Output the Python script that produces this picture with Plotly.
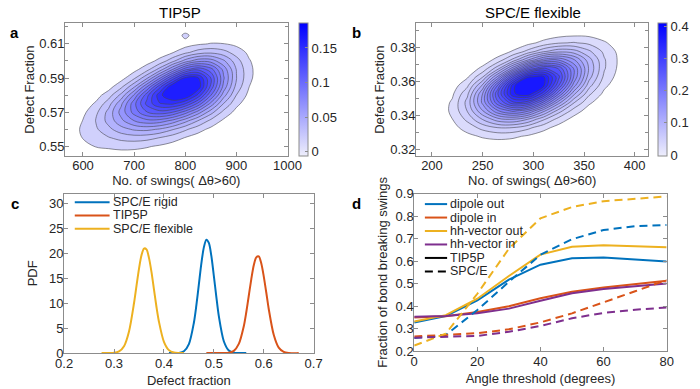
import plotly.graph_objects as go

# ---------------- Panel a: TIP5P density ----------------
X_A = [575, 600, 625, 650, 675, 700, 725, 750, 775, 800, 825, 850, 875, 900, 925, 950, 975]
Y_A = [0.545, 0.550, 0.555, 0.560, 0.565, 0.570, 0.575, 0.580, 0.585, 0.590,
       0.595, 0.600, 0.605, 0.610, 0.615, 0.620]
Z_A = [
    [0.0031, 0.0046, 0.0061, 0.0071, 0.0073, 0.0066, 0.0053, 0.0038, 0.0023, 0.0013, 0.0006, 0.0003, 0.0, 0.0, 0.0, 0.0, 0.0],
    [0.0047, 0.0076, 0.0125, 0.0137, 0.0153, 0.0151, 0.0131, 0.0101, 0.0069, 0.0041, 0.0022, 0.0010, 0.0004, 0.0, 0.0, 0.0, 0.0],
    [0.0062, 0.0125, 0.0167, 0.0229, 0.0278, 0.0297, 0.0281, 0.0234, 0.0173, 0.0112, 0.0065, 0.0033, 0.0014, 0.0005, 0.0, 0.0, 0.0],
    [0.0065, 0.0140, 0.0220, 0.0327, 0.0431, 0.0498, 0.0511, 0.0464, 0.0371, 0.0262, 0.0164, 0.0090, 0.0040, 0.0014, 0.0004, 0.0, 0.0],
    [0.0053, 0.0124, 0.0244, 0.0402, 0.0572, 0.0719, 0.0801, 0.0787, 0.0683, 0.0524, 0.0356, 0.0208, 0.0097, 0.0037, 0.0011, 0.0002, 0.0],
    [0.0034, 0.0091, 0.0208, 0.0400, 0.0649, 0.0889, 0.1075, 0.1147, 0.1080, 0.0899, 0.0662, 0.0408, 0.0202, 0.0081, 0.0026, 0.0007, 0.0],
    [0.0016, 0.0051, 0.0137, 0.0307, 0.0580, 0.0921, 0.1237, 0.1432, 0.1464, 0.1323, 0.1049, 0.0682, 0.0356, 0.0151, 0.0051, 0.0014, 0.0003],
    [0.0006, 0.0022, 0.0069, 0.0181, 0.0398, 0.0739, 0.1156, 0.1523, 0.1700, 0.1700, 0.1412, 0.0968, 0.0534, 0.0238, 0.0086, 0.0025, 0.0006],
    [0.0002, 0.0007, 0.0027, 0.0068, 0.0211, 0.0457, 0.0833, 0.1277, 0.1680, 0.1800, 0.1650, 0.1170, 0.0682, 0.0319, 0.0121, 0.0037, 0.0009],
    [0.0, 0.0002, 0.0008, 0.0029, 0.0075, 0.0217, 0.0460, 0.0825, 0.1243, 0.1600, 0.1580, 0.1200, 0.0736, 0.0366, 0.0146, 0.0047, 0.0012],
    [0.0, 0.0, 0.0002, 0.0008, 0.0027, 0.0080, 0.0197, 0.0410, 0.0720, 0.1050, 0.1180, 0.1020, 0.0679, 0.0355, 0.0149, 0.0051, 0.0014],
    [0.0, 0.0, 0.0, 0.0, 0.0006, 0.0022, 0.0064, 0.0157, 0.0320, 0.0533, 0.0680, 0.0668, 0.0504, 0.0292, 0.0130, 0.0047, 0.0013],
    [0.0, 0.0, 0.0, 0.0, 0.0, 0.0002, 0.0016, 0.0046, 0.0110, 0.0208, 0.0300, 0.0334, 0.0285, 0.0187, 0.0094, 0.0036, 0.0011],
    [0.0, 0.0, 0.0, 0.0, 0.0, 0.0, 0.0003, 0.0010, 0.0029, 0.0062, 0.0101, 0.0127, 0.0123, 0.0091, 0.0052, 0.0023, 0.0008],
    [0.0, 0.0, 0.0, 0.0, 0.0, 0.0, 0.0, 0.0002, 0.0005, 0.0160, 0.0026, 0.0037, 0.0040, 0.0034, 0.0022, 0.0010, 0.0004],
    [0.0, 0.0, 0.0, 0.0, 0.0, 0.0, 0.0, 0.0, 0.0, 0.0, 0.0004, 0.0008, 0.0010, 0.0009, 0.0006, 0.0003, 0.0],
]

# ---------------- Panel b: SPC/E flexible density ----------------
X_B = [190, 205, 220, 235, 250, 265, 280, 295, 310, 325, 340, 355, 370, 385, 400]
Y_B = [0.3175, 0.3225, 0.3275, 0.3325, 0.3375, 0.3425, 0.3475, 0.3525, 0.3575,
       0.3625, 0.3675, 0.3725, 0.3775, 0.3825, 0.3875, 0.3925]
Z_B = [
    [0.0, 0.0006, 0.0014, 0.0023, 0.0030, 0.0030, 0.0023, 0.0014, 0.0006, 0.0, 0.0, 0.0, 0.0, 0.0, 0.0],
    [0.0006, 0.0015, 0.0035, 0.0063, 0.0089, 0.0097, 0.0082, 0.0053, 0.0027, 0.0010, 0.0003, 0.0, 0.0, 0.0, 0.0],
    [0.0009, 0.0029, 0.0074, 0.0146, 0.0224, 0.0263, 0.0239, 0.0168, 0.0091, 0.0039, 0.0013, 0.0004, 0.0, 0.0, 0.0],
    [0.0013, 0.0047, 0.0131, 0.0281, 0.0464, 0.0591, 0.0583, 0.0445, 0.0262, 0.0121, 0.0044, 0.0013, 0.0003, 0.0, 0.0],
    [0.0016, 0.0065, 0.0196, 0.0452, 0.0811, 0.1120, 0.1190, 0.0987, 0.0632, 0.0317, 0.0127, 0.0041, 0.0010, 0.0002, 0.0],
    [0.0015, 0.0070, 0.0240, 0.0614, 0.1190, 0.1780, 0.2060, 0.1840, 0.1270, 0.0699, 0.0306, 0.0107, 0.0030, 0.0007, 0.0],
    [0.0010, 0.0057, 0.0228, 0.0671, 0.1460, 0.2370, 0.2970, 0.2880, 0.2170, 0.1300, 0.0623, 0.0238, 0.0073, 0.0018, 0.0004],
    [0.0, 0.0035, 0.0163, 0.0558, 0.1410, 0.2600, 0.3570, 0.3750, 0.3080, 0.2020, 0.1050, 0.0441, 0.0147, 0.0039, 0.0008],
    [0.0, 0.0017, 0.0089, 0.0357, 0.1040, 0.2230, 0.3520, 0.4100, 0.3670, 0.2620, 0.1500, 0.0680, 0.0248, 0.0071, 0.0017],
    [0.0, 0.0006, 0.0037, 0.0173, 0.0584, 0.1450, 0.2650, 0.3580, 0.3650, 0.2860, 0.1780, 0.0886, 0.0350, 0.0111, 0.0028],
    [0.0, 0.0, 0.0012, 0.0064, 0.0249, 0.0719, 0.1520, 0.2390, 0.2840, 0.2580, 0.1780, 0.0970, 0.0420, 0.0146, 0.0040],
    [0.0, 0.0, 0.0, 0.0018, 0.0080, 0.0269, 0.0660, 0.1200, 0.1680, 0.1780, 0.1430, 0.0885, 0.0420, 0.0159, 0.0048],
    [0.0, 0.0, 0.0, 0.0, 0.0020, 0.0077, 0.0220, 0.0467, 0.0760, 0.0938, 0.0885, 0.0636, 0.0350, 0.0145, 0.0048],
    [0.0, 0.0, 0.0, 0.0, 0.0, 0.0017, 0.0056, 0.0138, 0.0262, 0.0380, 0.0416, 0.0350, 0.0223, 0.0109, 0.0040],
    [0.0, 0.0, 0.0, 0.0, 0.0, 0.0, 0.0013, 0.0031, 0.0069, 0.0117, 0.0150, 0.0147, 0.0110, 0.0062, 0.0027],
    [0.0, 0.0, 0.0, 0.0, 0.0, 0.0, 0.0, 0.0006, 0.0014, 0.0027, 0.0041, 0.0047, 0.0040, 0.0027, 0.0015],
]

# ---------------- Panel c: PDFs of defect fraction ----------------
FLEX_X = [0.275, 0.29, 0.30, 0.31, 0.32, 0.33, 0.34, 0.345, 0.35, 0.355, 0.36, 0.365, 0.37,
          0.375, 0.38, 0.385, 0.39, 0.40, 0.41, 0.42, 0.43, 0.44]
FLEX_Y = [0.0, 0.01, 0.06, 0.33, 1.39, 4.35, 10.0, 13.5, 16.9, 19.6, 20.97, 20.8, 19.1,
          16.3, 12.8, 9.3, 6.3, 2.27, 0.60, 0.12, 0.02, 0.0]
RIGID_X = [0.41, 0.42, 0.43, 0.44, 0.45, 0.46, 0.465, 0.47, 0.475, 0.48, 0.485, 0.49, 0.495,
           0.50, 0.505, 0.51, 0.52, 0.53, 0.54, 0.55, 0.565]
RIGID_Y = [0.0, 0.005, 0.05, 0.37, 1.81, 6.1, 9.6, 13.8, 18.0, 21.2, 22.75, 22.1, 19.5,
           15.5, 11.3, 7.4, 2.38, 0.52, 0.08, 0.01, 0.0]
TIP5P_X = [0.485, 0.51, 0.52, 0.53, 0.54, 0.55, 0.56, 0.565, 0.57, 0.575, 0.58, 0.585, 0.59,
           0.595, 0.60, 0.605, 0.61, 0.62, 0.63, 0.64, 0.65, 0.67]
TIP5P_Y = [0.0, 0.001, 0.01, 0.08, 0.45, 1.84, 5.4, 8.2, 11.5, 14.8, 17.6, 19.2, 19.4,
           18.0, 15.4, 12.2, 8.85, 3.67, 1.09, 0.24, 0.04, 0.0]

# ---------------- Panel d: fraction of bond breaking swings ----------------
ANGLE = [0, 10, 20, 30, 40, 50, 60, 70, 80]
TIP5P_DIPOLE_OUT = [0.327, 0.356, 0.426, 0.518, 0.584, 0.613, 0.616, 0.607, 0.598]
TIP5P_DIPOLE_IN = [0.350, 0.355, 0.374, 0.400, 0.435, 0.464, 0.483, 0.498, 0.513]
TIP5P_HH_OUT = [0.332, 0.360, 0.433, 0.534, 0.629, 0.664, 0.670, 0.667, 0.661]
TIP5P_HH_IN = [0.353, 0.356, 0.368, 0.389, 0.424, 0.457, 0.476, 0.490, 0.501]
SPCE_DIPOLE_OUT = [0.258, 0.272, 0.383, 0.508, 0.628, 0.697, 0.738, 0.755, 0.760]
SPCE_DIPOLE_IN = [0.265, 0.272, 0.280, 0.297, 0.328, 0.368, 0.416, 0.466, 0.516]
SPCE_HH_OUT = [0.225, 0.278, 0.455, 0.655, 0.790, 0.840, 0.866, 0.878, 0.887]
SPCE_HH_IN = [0.260, 0.264, 0.268, 0.286, 0.312, 0.346, 0.370, 0.384, 0.394]

BLUE, RED, YELLOW, PURPLE = "#0072BD", "#D95319", "#EDB120", "#7E2F8E"
AXC = "#8c8c8c"
TXT = "#262626"
FONT = "Liberation Sans, Arial, Helvetica, sans-serif"
DASH = "8px,5px"

LOW = (238, 238, 252)
HIGH = (0, 0, 255)


def ramp(t):
    t = max(0.0, min(1.0, t))
    return "rgb(%d,%d,%d)" % tuple(round(LOW[i] + (HIGH[i] - LOW[i]) * t) for i in range(3))


# contour levels / colour ranges
A_START, A_END, A_STEP, A_CMIN, A_CMAX = 0.012, 0.156, 0.012, -0.006, 0.186
B_START, B_END, B_STEP, B_CMIN, B_CMAX = 0.02, 0.36, 0.02, -0.003, 0.411


def contour_scale(start, end, step, cmin, cmax):
    lo = start - step / 2
    hi = end + step / 2
    v02 = lo + 0.02 * (hi - lo)
    f = lambda v: (v - cmin) / (cmax - cmin)
    return [[0, "white"], [0.02, ramp(f(v02))], [1, ramp(f(hi))]]


fig = go.Figure()

fig.add_trace(go.Contour(
    x=X_A, y=Y_A, z=Z_A, xaxis="x", yaxis="y", autocontour=False,
    contours=dict(start=A_START, end=A_END, size=A_STEP, coloring="fill", showlines=True),
    line=dict(color="rgb(70,70,80)", width=0.6, smoothing=1.0),
    colorscale=contour_scale(A_START, A_END, A_STEP, A_CMIN, A_CMAX),
    showscale=False, hoverinfo="skip", showlegend=False))

fig.add_trace(go.Contour(
    x=X_B, y=Y_B, z=Z_B, xaxis="x2", yaxis="y2", autocontour=False,
    contours=dict(start=B_START, end=B_END, size=B_STEP, coloring="fill", showlines=True),
    line=dict(color="rgb(70,70,80)", width=0.6, smoothing=1.0),
    colorscale=contour_scale(B_START, B_END, B_STEP, B_CMIN, B_CMAX),
    showscale=False, hoverinfo="skip", showlegend=False))


def cbar_trace(xa, ya, cmin, cmax, x0, dt):
    return go.Scatter(
        x=[None], y=[None], xaxis=xa, yaxis=ya, mode="markers", showlegend=False, hoverinfo="skip",
        marker=dict(color=[0], cmin=cmin, cmax=cmax, colorscale=[[0, ramp(0)], [1, ramp(1)]],
                    showscale=True,
                    colorbar=dict(x=x0, xanchor="left", y=1 - 155 / 389, yanchor="bottom",
                                  len=138 / 389, lenmode="fraction", thickness=9,
                                  thicknessmode="pixels", xpad=0, ypad=0,
                                  outlinewidth=1, outlinecolor=AXC,
                                  tick0=0, dtick=dt, ticks="inside", ticklen=3, tickcolor=AXC,
                                  tickfont=dict(size=13, color=TXT, family=FONT))))


fig.add_trace(cbar_trace("x", "y", A_CMIN, A_CMAX, 300 / 700, 0.05))
fig.add_trace(cbar_trace("x2", "y2", B_CMIN, B_CMAX, 671 / 700, 0.1))

# panel c
C_SERIES = [(RIGID_X, RIGID_Y, "SPC/E rigid", BLUE),
            (TIP5P_X, TIP5P_Y, "TIP5P", RED),
            (FLEX_X, FLEX_Y, "SPC/E flexible", YELLOW)]
for xs, ys, name, col in C_SERIES:
    fig.add_trace(go.Scatter(x=xs, y=ys, xaxis="x3", yaxis="y3", mode="lines", name=name,
                             line=dict(color=col, width=2, shape="spline", smoothing=0.8),
                             showlegend=False))

# panel d
D_SOLID = [(TIP5P_DIPOLE_OUT, "dipole out", BLUE), (TIP5P_DIPOLE_IN, "dipole in", RED),
           (TIP5P_HH_OUT, "hh-vector out", YELLOW), (TIP5P_HH_IN, "hh-vector in", PURPLE)]
D_DASH = [(SPCE_DIPOLE_OUT, "dipole out (SPC/E)", BLUE), (SPCE_DIPOLE_IN, "dipole in (SPC/E)", RED),
          (SPCE_HH_OUT, "hh-vector out (SPC/E)", YELLOW), (SPCE_HH_IN, "hh-vector in (SPC/E)", PURPLE)]
for ys, name, col in D_SOLID:
    fig.add_trace(go.Scatter(x=ANGLE, y=ys, xaxis="x4", yaxis="y4", mode="lines", name=name,
                             line=dict(color=col, width=2), showlegend=False))
for ys, name, col in D_DASH:
    fig.add_trace(go.Scatter(x=ANGLE, y=ys, xaxis="x4", yaxis="y4", mode="lines", name=name,
                             line=dict(color=col, width=2, dash=DASH), showlegend=False))


def ax(domain, rng, tick0, dtick, title, anchor, minor=None, standoff=4, lab=-3):
    d = dict(domain=domain, range=rng, anchor=anchor, showline=True, mirror="ticks",
             linecolor=AXC, linewidth=1, ticks="inside", ticklen=4, tickcolor=AXC,
             showgrid=False, zeroline=False, tick0=tick0, dtick=dtick, ticklabelstandoff=lab,
             tickfont=dict(size=13, color=TXT, family=FONT),
             title=dict(text=title, font=dict(size=13, color=TXT, family=FONT), standoff=standoff))
    if minor:
        d["minor"] = dict(dtick=minor, ticks="inside", ticklen=3, tickcolor=AXC, showgrid=False)
    return d


H = 389.0
W = 700.0
fig.update_layout(
    width=700, height=389, margin=dict(l=0, r=0, t=0, b=0),
    paper_bgcolor="white", plot_bgcolor="white",
    font=dict(family=FONT, size=13, color=TXT),
    xaxis=ax([58 / W, 288 / W], [565, 1000], 600, 100, "No. of swings( Δθ>60)", "y", standoff=3),
    yaxis=ax([1 - 155 / H, 1 - 17 / H], [0.5444, 0.622], 0.55, 0.02, "Defect Fraction", "x", 0.01,
             standoff=1),
    xaxis2=ax([421 / W, 661 / W], [184.4, 413.4], 200, 50, "No. of swings( Δθ>60)", "y2", standoff=3),
    yaxis2=ax([1 - 155 / H, 1 - 17 / H], [0.3159, 0.394], 0.32, 0.02, "Defect Fraction", "x2", 0.01,
              standoff=2),
    xaxis3=ax([57 / W, 315 / W], [0.2, 0.7], 0.2, 0.1, "Defect fraction", "y3", standoff=6, lab=-2),
    yaxis3=ax([1 - 360 / H, 1 - 194 / H], [0, 32], 0, 5, "PDF", "x3", standoff=8),
    xaxis4=ax([419 / W, 680 / W], [0, 80], 0, 20, "Angle threshold (degrees)", "y4", standoff=6, lab=-2),
    yaxis4=ax([1 - 358 / H, 1 - 194 / H], [0.2, 0.9], 0.2, 0.1, "Fraction of bond breaking swings", "x4"),
    showlegend=False,
)

annots = [
    dict(text="TIP5P", x=177 / W, y=1 - 6 / H, size=15, bold=False),
    dict(text="SPC/E flexible", x=542 / W, y=1 - 6 / H, size=15, bold=False),
    dict(text="a", x=6 / W, y=1 - 27 / H, size=15, bold=True),
    dict(text="b", x=359 / W, y=1 - 27 / H, size=15, bold=True),
    dict(text="c", x=6 / W, y=1 - 204 / H, size=15, bold=True),
    dict(text="d", x=359 / W, y=1 - 204 / H, size=15, bold=True),
]
for a in annots:
    fig.add_annotation(text=("<b>%s</b>" % a["text"]) if a["bold"] else a["text"],
                       x=a["x"], y=a["y"], xref="paper", yref="paper", showarrow=False,
                       xanchor="center", yanchor="middle",
                       font=dict(size=a["size"], color="black", family=FONT))


# compact legends (keys + labels), as in the reference
def legend_block(entries, x_line0, x_line1, x_text, y_top, step):
    for i, (label, col, dash) in enumerate(entries):
        yy = 1 - (y_top + i * step) / H
        fig.add_shape(type="line", xref="paper", yref="paper",
                      x0=x_line0 / W, x1=x_line1 / W, y0=yy, y1=yy,
                      line=dict(color=col, width=2, dash=dash))
        fig.add_annotation(text=label, x=x_text / W, y=yy, xref="paper", yref="paper",
                           showarrow=False, xanchor="left", yanchor="middle", height=step,
                           borderpad=0, font=dict(size=12.5, color=TXT, family=FONT))


legend_block([(n, c, "solid") for _, _, n, c in C_SERIES], 68, 104, 106, 203, 13.8)
legend_block([(n, c, "solid") for _, n, c in D_SOLID] +
             [("TIP5P", "black", "solid"), ("SPC/E", "black", DASH)],
             430, 453, 455, 205, 14)

fig.write_html("out.html", config={"displayModeBar": False},
               post_script="document.body.style.margin='0';document.body.style.padding='0';")
